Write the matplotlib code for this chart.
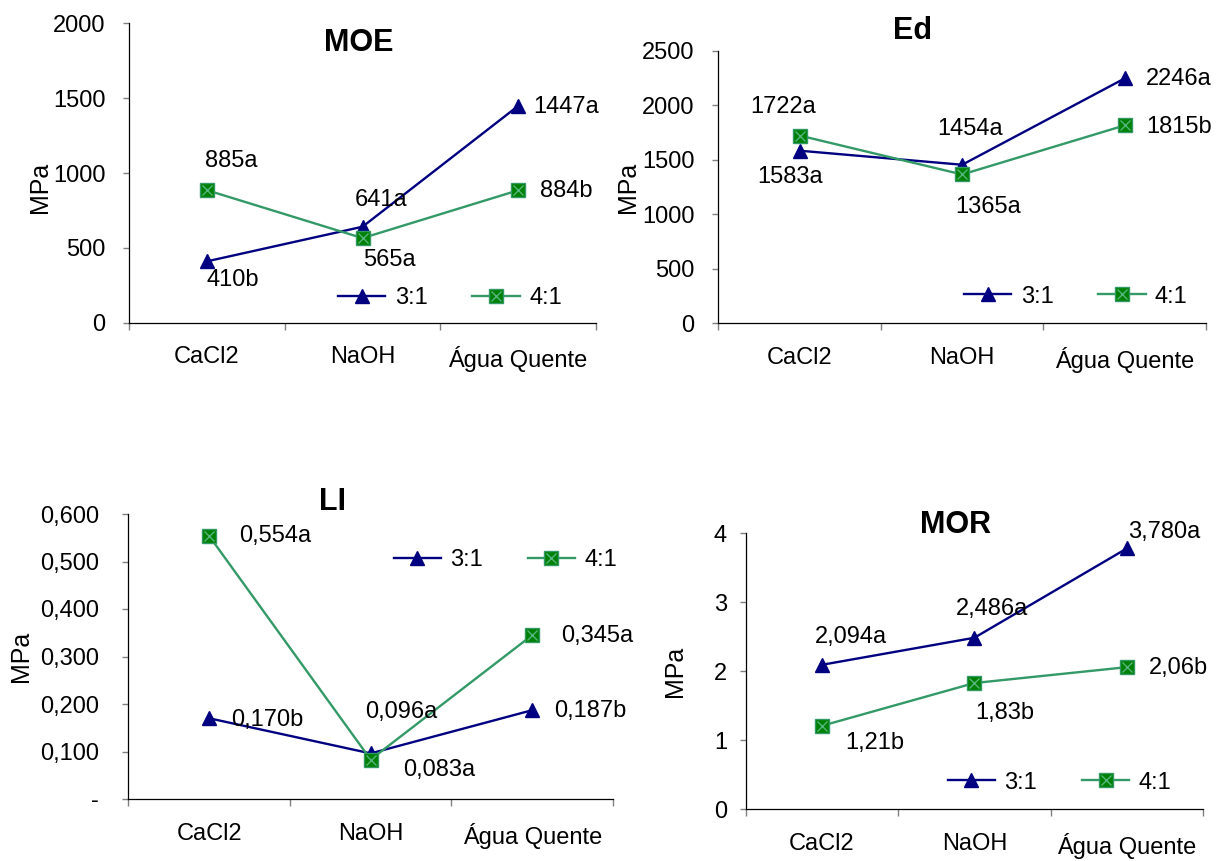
import matplotlib.pyplot as plt
from matplotlib.ticker import FuncFormatter, MultipleLocator

plt.rcParams['font.family'] = ['Liberation Sans', 'DejaVu Sans']

W, H = 1217, 861
FS = 17

# data
categories = ['CaCl2', 'NaOH', 'Água Quente']
series_names = ['3:1', '4:1']

moe_31 = [410, 641, 1447]
moe_41 = [885, 565, 884]
moe_lab_31 = ['410b', '641a', '1447a']
moe_lab_41 = ['885a', '565a', '884b']

ed_31 = [1583, 1454, 2246]
ed_41 = [1722, 1365, 1815]
ed_lab_31 = ['1583a', '1454a', '2246a']
ed_lab_41 = ['1722a', '1365a', '1815b']

li_31 = [0.170, 0.096, 0.187]
li_41 = [0.554, 0.083, 0.345]
li_lab_31 = ['0,170b', '0,096a', '0,187b']
li_lab_41 = ['0,554a', '0,083a', '0,345a']

mor_31 = [2.094, 2.486, 3.780]
mor_41 = [1.21, 1.83, 2.06]
mor_lab_31 = ['2,094a', '2,486a', '3,780a']
mor_lab_41 = ['1,21b', '1,83b', '2,06b']

fig = plt.figure(figsize=(W / 100, H / 100), dpi=100)


def px(x0, y0, x1, y1):
    return [x0 / W, 1 - y1 / H, (x1 - x0) / W, (y1 - y0) / H]


def fpos(x, y):
    return (x / W, 1 - y / H)


def panel(rect, title, title_xy, ylab_xy, v31, v41, lab31, lab41, off31, off41,
          ymax, ystep, leg_xy, ypad, fmt=None):
    ax = fig.add_axes(px(*rect))
    x = [0.5, 1.5, 2.5]
    l1, = ax.plot(x, v31, color='#000080', lw=1.7, marker='^', ms=10.5,
                  mfc='#000080', mec='#000080', clip_on=False, zorder=3)
    l2, = ax.plot(x, v41, color='#339966', lw=1.7, marker='s', ms=10,
                  mfc='#008000', mec='#339966', clip_on=False, zorder=3)
    l3, = ax.plot(x, v41, ls='none', marker='x', ms=7.5, mew=1,
                  color='#55b57f', clip_on=False, zorder=4)

    for xi, v, t, o in zip(x, v31, lab31, off31):
        ax.annotate(t, (xi, v), xytext=o, textcoords='offset pixels',
                    ha='center', va='center', fontsize=FS)
    for xi, v, t, o in zip(x, v41, lab41, off41):
        ax.annotate(t, (xi, v), xytext=o, textcoords='offset pixels',
                    ha='center', va='center', fontsize=FS)

    ax.set_xlim(0, 3)
    ax.set_ylim(0, ymax)
    ax.yaxis.set_major_locator(MultipleLocator(ystep))
    if fmt:
        ax.yaxis.set_major_formatter(FuncFormatter(fmt))
    ax.set_xticks([0, 1, 2, 3])
    ax.set_xticklabels([])
    ax.set_xticks(x, minor=True)
    ax.set_xticklabels(categories, minor=True)
    ax.tick_params(axis='x', which='major', length=5, width=1, color='#808080')
    ax.tick_params(axis='x', which='minor', length=0, pad=17, labelsize=FS)
    ax.tick_params(axis='y', length=4.5, width=1, color='#808080', pad=ypad, labelsize=FS)
    for s in ['top', 'right']:
        ax.spines[s].set_visible(False)
    for s in ['left', 'bottom']:
        ax.spines[s].set_linewidth(0.9)

    fig.text(*fpos(*title_xy), title, fontsize=22, fontweight='bold',
             ha='center', va='center')
    fig.text(*fpos(*ylab_xy), 'MPa', fontsize=18, rotation=90,
             ha='center', va='center')
    ax.legend([l1, (l2, l3)], series_names, ncol=2, frameon=False, numpoints=1,
              fontsize=FS, handlelength=2.0, handletextpad=0.4, columnspacing=1.9,
              borderpad=0, loc='center', bbox_to_anchor=fpos(*leg_xy),
              bbox_transform=fig.transFigure)
    return ax


def comma3(v, pos):
    if abs(v) < 1e-9:
        return '-'
    return f'{v:.3f}'.replace('.', ',')


panel((129.3, 23.3, 595.7, 322.7), 'MOE', (359, 42.7), (39.6, 187.5),
      moe_31, moe_41, moe_lab_31, moe_lab_41,
      [(25.7, -18.7), (18.4, 26.7), (48.3, -0.6)],
      [(24.7, 29), (27.3, -21.9), (48.7, -0.6)],
      2000, 500, (450, 298.3), 12.5)

panel((718.3, 50.7, 1206, 323.3), 'Ed', (912.3, 30.7), (628, 187),
      ed_31, ed_41, ed_lab_31, ed_lab_41,
      [(-9.9, -26.8), (7.6, 36.1), (53.9, -0.9)],
      [(-16, 28.8), (25.7, -32.2), (54.5, -1.3)],
      2500, 500, (1075.9, 296.7), 12.5)

panel((128.3, 514, 613, 799), 'LI', (332.8, 501.7), (20.7, 656),
      li_31, li_41, li_lab_31, li_lab_41,
      [(58.6, -1.75), (30.8, 41.7), (58.3, -0.8)],
      [(65.7, 0), (68.7, -10.4), (65, -0.9)],
      0.6, 0.1, (505.4, 560), 16.5, fmt=comma3)

panel((745.7, 533.3, 1203, 809.3), 'MOR', (955.4, 525), (675.2, 671.7),
      mor_31, mor_41, mor_lab_31, mor_lab_41,
      [(29.3, 27.5), (17.4, 28.5), (37.3, 16.8)],
      [(52.5, -17.5), (30.7, -30.3), (51.9, -1.1)],
      4, 1, (1059.5, 782.7), 9)

fig.savefig('out.png', dpi=100)
